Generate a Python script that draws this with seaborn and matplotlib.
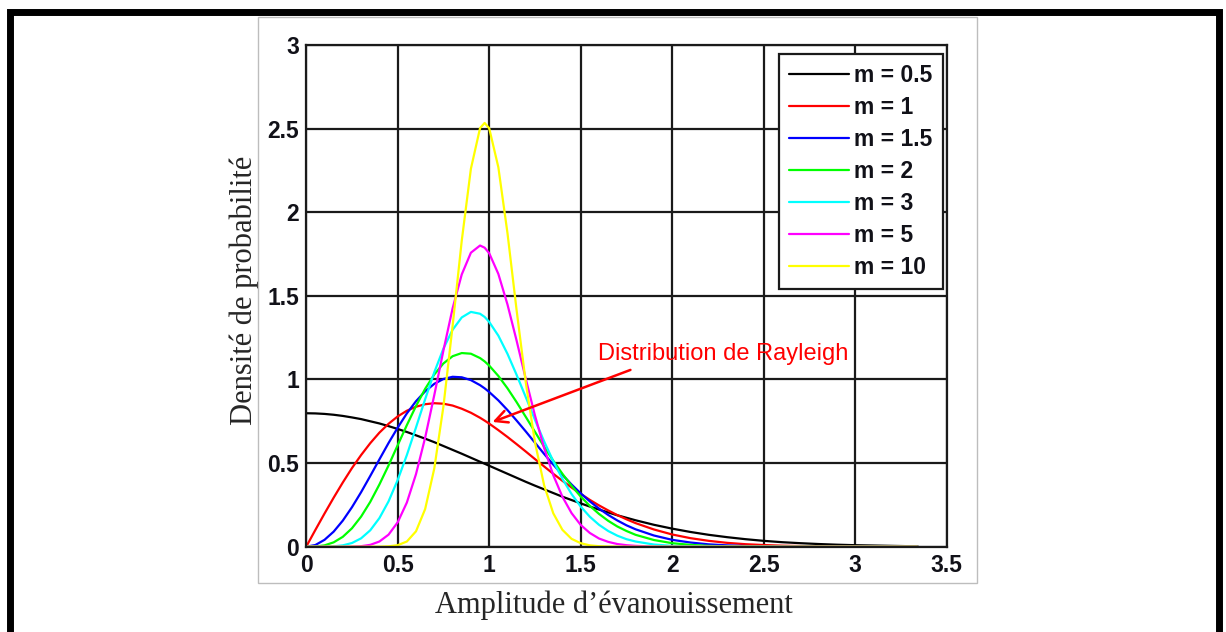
import pandas as pd
import matplotlib.pyplot as plt
import seaborn as sns
from matplotlib.patches import Rectangle

# fading amplitude values (x)
amplitude = [0, 0.05, 0.1, 0.15, 0.2, 0.25, 0.3, 0.35, 0.4, 0.45,
             0.5, 0.55, 0.6, 0.65, 0.7, 0.75, 0.8, 0.85, 0.9, 0.95,
             0.975,
             1.0, 1.05, 1.1, 1.15, 1.2, 1.25, 1.3, 1.35, 1.4, 1.45,
             1.5, 1.55, 1.6, 1.65, 1.7, 1.75, 1.8,
             1.9, 2.0, 2.1, 2.2, 2.3, 2.4, 2.5, 2.6, 2.7, 2.8,
             2.9, 3.0, 3.1, 3.2, 3.3, 3.34]

m_labels = ['m = 0.5', 'm = 1', 'm = 1.5', 'm = 2', 'm = 3', 'm = 5', 'm = 10']
line_colors = ['#000000', '#ff0000', '#0000ff', '#00ff00', '#00ffff', '#ff00ff', '#ffff00']

pdf_m05 = [0.798, 0.797, 0.794, 0.789, 0.782, 0.773, 0.763, 0.750, 0.737, 0.721,
           0.704, 0.686, 0.666, 0.646, 0.625, 0.602, 0.579, 0.556, 0.532, 0.508,
           0.496,
           0.484, 0.460, 0.436, 0.412, 0.388, 0.365, 0.343, 0.321, 0.299, 0.279,
           0.259, 0.240, 0.222, 0.205, 0.188, 0.173, 0.158,
           0.131, 0.108, 0.088, 0.071, 0.057, 0.045, 0.035, 0.027, 0.021, 0.016,
           0.012, 0.009, 0.007, 0.005, 0.003, 0.003]
pdf_m1 = [0, 0.100, 0.198, 0.293, 0.384, 0.470, 0.548, 0.619, 0.682, 0.735,
          0.779, 0.813, 0.837, 0.852, 0.858, 0.855, 0.844, 0.825, 0.801, 0.771,
          0.754,
          0.736, 0.697, 0.656, 0.613, 0.569, 0.524, 0.480, 0.436, 0.394, 0.354,
          0.316, 0.280, 0.247, 0.217, 0.189, 0.164, 0.141,
          0.103, 0.073, 0.051, 0.035, 0.023, 0.015, 0.010, 0.006, 0.004, 0.002,
          0.001, 0.001, 0, 0, 0, 0]
pdf_m15 = [0, 0.010, 0.041, 0.090, 0.156, 0.236, 0.326, 0.423, 0.522, 0.620,
           0.712, 0.797, 0.870, 0.929, 0.974, 1.003, 1.016, 1.013, 0.996, 0.966,
           0.947,
           0.925, 0.875, 0.817, 0.754, 0.689, 0.622, 0.555, 0.491, 0.430, 0.372,
           0.319, 0.271, 0.228, 0.190, 0.157, 0.128, 0.104,
           0.067, 0.041, 0.025, 0.014, 0.008, 0.004, 0.002, 0.001, 0, 0,
           0, 0, 0, 0, 0, 0]
pdf_m2 = [0, 0.001, 0.008, 0.026, 0.059, 0.110, 0.180, 0.268, 0.372, 0.486,
          0.607, 0.727, 0.841, 0.944, 1.030, 1.096, 1.139, 1.158, 1.154, 1.128,
          1.108,
          1.083, 1.021, 0.947, 0.864, 0.776, 0.687, 0.598, 0.514, 0.436, 0.364,
          0.300, 0.244, 0.196, 0.155, 0.121, 0.094, 0.071,
          0.040, 0.021, 0.011, 0.005, 0.002, 0.001, 0, 0, 0, 0,
          0, 0, 0, 0, 0, 0]
pdf_m3 = [0, 0, 0, 0.002, 0.008, 0.022, 0.050, 0.098, 0.171, 0.271,
          0.399, 0.548, 0.713, 0.882, 1.043, 1.185, 1.297, 1.371, 1.404, 1.393,
          1.374,
          1.344, 1.262, 1.153, 1.027, 0.894, 0.759, 0.630, 0.511, 0.406, 0.315,
          0.240, 0.179, 0.131, 0.094, 0.066, 0.045, 0.031,
          0.013, 0.005, 0.002, 0.001, 0, 0, 0, 0, 0, 0,
          0, 0, 0, 0, 0, 0]
pdf_m5 = [0, 0, 0, 0, 0, 0.001, 0.003, 0.011, 0.031, 0.072,
          0.146, 0.264, 0.434, 0.652, 0.907, 1.174, 1.425, 1.628, 1.758, 1.801,
          1.788,
          1.755, 1.631, 1.448, 1.231, 1.003, 0.785, 0.591, 0.428, 0.299, 0.201,
          0.130, 0.082, 0.049, 0.029, 0.016, 0.009, 0.005,
          0.001, 0, 0, 0, 0, 0, 0, 0, 0, 0,
          0, 0, 0, 0, 0, 0]
pdf_m10 = [0, 0, 0, 0, 0, 0, 0, 0, 0, 0.002,
           0.009, 0.031, 0.092, 0.225, 0.468, 0.840, 1.320, 1.830, 2.260, 2.503,
           2.534,
           2.502, 2.269, 1.874, 1.412, 0.981, 0.625, 0.368, 0.200, 0.101, 0.047,
           0.021, 0.008, 0.003, 0.001, 0, 0, 0,
           0, 0, 0, 0, 0, 0, 0, 0, 0, 0,
           0, 0, 0, 0, 0, 0]

xtick_values = [0, 0.5, 1, 1.5, 2, 2.5, 3, 3.5]
xtick_labels = ['0', '0.5', '1', '1.5', '2', '2.5', '3', '3.5']
ytick_values = [0, 0.5, 1, 1.5, 2, 2.5, 3]
ytick_labels = ['0', '0.5', '1', '1.5', '2', '2.5', '3']

W, H = 1226, 632


def build_frame():
    series = [pdf_m05, pdf_m1, pdf_m15, pdf_m2, pdf_m3, pdf_m5, pdf_m10]
    frames = []
    for label, vals in zip(m_labels, series):
        frames.append(pd.DataFrame({'amplitude': amplitude, 'density': vals, 'm': label}))
    return pd.concat(frames, ignore_index=True)


def px_box(x0, y0, x1, y1):
    # pixel box (top-left origin) -> figure fraction rect
    return (x0 / W, 1 - y1 / H, (x1 - x0) / W, (y1 - y0) / H)


def plot_nakagami(df):
    sns.set_style('white')
    plt.rcParams['font.family'] = ['Liberation Sans', 'DejaVu Sans']

    fig = plt.figure(figsize=(W / 100, H / 100), dpi=100)
    ax = fig.add_axes(px_box(306.2, 45, 946.7, 546.7))

    palette = dict(zip(m_labels, line_colors))
    sns.lineplot(data=df, x='amplitude', y='density', hue='m', hue_order=m_labels,
                 palette=palette, estimator=None, sort=False, lw=1.6, ax=ax)

    ax.set_xlim(0, 3.5)
    ax.set_ylim(0, 3)
    ax.set_xticks(xtick_values)
    ax.set_xticklabels(xtick_labels)
    ax.set_yticks(ytick_values)
    ax.set_yticklabels(ytick_labels)
    ax.tick_params(length=0, labelsize=16.5, labelcolor='#111118', pad=5)
    for lbl in ax.get_xticklabels() + ax.get_yticklabels():
        lbl.set_fontweight('bold')
    ax.grid(True, color='#1a1a1a', lw=1.6)
    ax.set_axisbelow(True)
    for sp in ax.spines.values():
        sp.set_visible(True)
        sp.set_color('#1a1a1a')
        sp.set_linewidth(1.6)

    ax.set_xlabel('Amplitude d\u2019évanouissement', fontfamily='Liberation Serif',
                  fontsize=22, fontweight='normal')
    ax.xaxis.label.set_va('baseline')
    ax.xaxis.set_label_coords((614 - 306.2) / 640.5, (546.7 - 613) / 501.7)
    ax.set_ylabel('Densité de probabilité', fontfamily='Liberation Serif',
                  fontsize=22, fontweight='normal')
    ax.yaxis.label.set_va('center')
    ax.yaxis.set_label_coords((244 - 306.2) / 640.5, (546.7 - 290) / 501.7)

    handles, labels = ax.get_legend_handles_labels()
    leg = ax.legend(handles, labels, loc='upper right', bbox_to_anchor=(0.9942, 0.9821),
                    borderaxespad=0, fancybox=False, framealpha=1, edgecolor='#1a1a1a',
                    prop={'family': 'Liberation Sans', 'weight': 'bold', 'size': 16.5},
                    handlelength=2.6, handletextpad=0.25, labelspacing=0.39,
                    borderpad=0.45)
    leg.get_frame().set_linewidth(1.6)
    for t in leg.get_texts():
        t.set_color('#111118')

    # Rayleigh callout
    ax.annotate('', xy=(1.004, 0.740), xytext=(1.786, 1.063),
                arrowprops=dict(arrowstyle='->', color='#ff0000', lw=1.8,
                                mutation_scale=22))
    ax.text(1.595, 1.117, 'Distribution de Rayleigh', color='#ff0000',
            fontsize=17, va='baseline', ha='left')

    # light grey frame of the pasted figure
    x, y, w, h = px_box(258, 17, 977, 583)
    fig.patches.append(Rectangle((x, y), w, h, transform=fig.transFigure,
                                 fill=False, edgecolor='#bdbdbd', lw=1))
    # thick black page border (bottom edge is cut off)
    x, y, w, h = px_box(10, 11.5, 1219, 660)
    fig.patches.append(Rectangle((x, y), w, h, transform=fig.transFigure,
                                 fill=False, edgecolor='black', lw=5))

    fig.savefig('out.png', dpi=100)
    plt.close(fig)


def main():
    df = build_frame()
    plot_nakagami(df)


if __name__ == "__main__":
    main()
